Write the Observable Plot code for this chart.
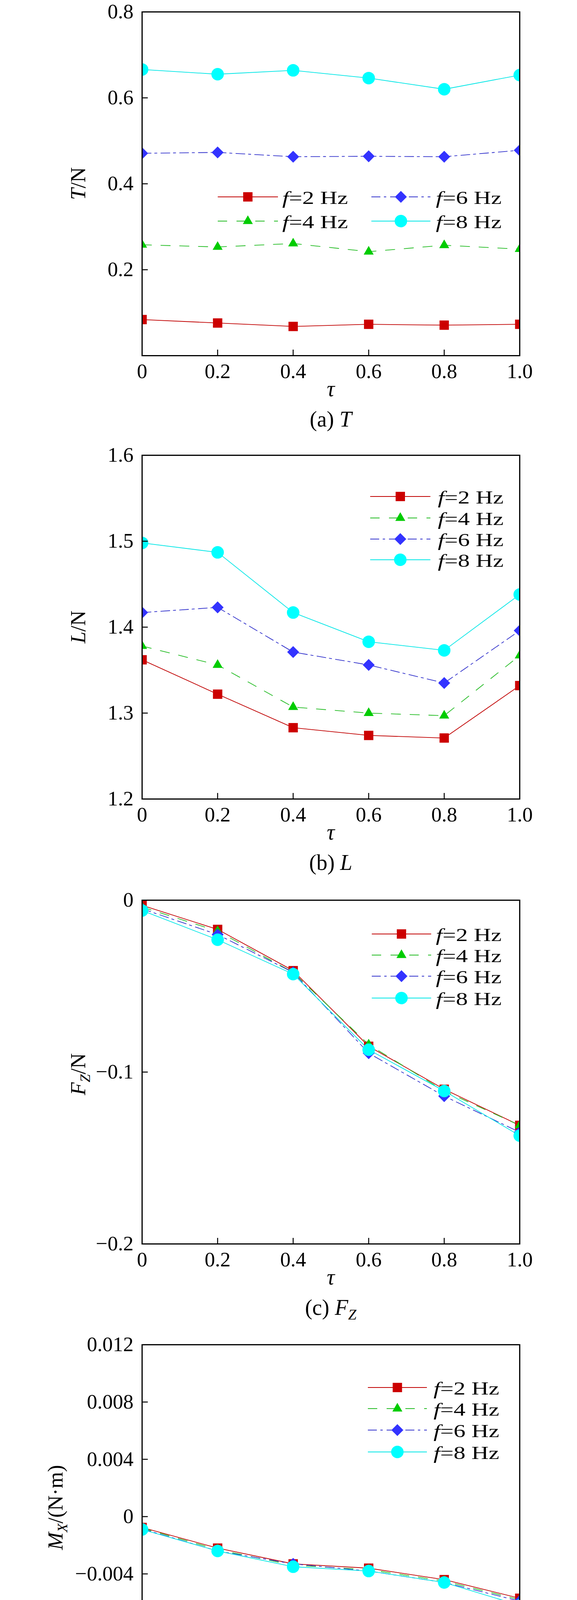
<!DOCTYPE html>
<html>
<head>
<meta charset="utf-8">
<script src="https://cdn.jsdelivr.net/npm/d3@7"></script>
<script src="https://cdn.jsdelivr.net/npm/@observablehq/plot@0.6"></script>
<style>
  html, body { margin: 0; padding: 0; background: #fff; }
  #root { position: relative; width: 1476px; height: 6817px; overflow: hidden; background: #fff; }
  .panel { position: absolute; left: 0; }
  .panel svg { background: transparent !important; overflow: visible; }
</style>
</head>
<body>
<div id="root"></div>
<script>
// ---------- data ----------
const tau = [0, 0.2, 0.4, 0.6, 0.8, 1.0];
const seriesNames = ["2", "4", "6", "8"]; // f = 2,4,6,8 Hz

// (a) T / N
const T2 = [0.084, 0.076, 0.068, 0.073, 0.071, 0.073];
const T4 = [0.258, 0.253, 0.261, 0.242, 0.257, 0.248];
const T6 = [0.471, 0.473, 0.463, 0.464, 0.463, 0.478];
const T8 = [0.666, 0.655, 0.664, 0.646, 0.620, 0.653];

// (b) L / N
const L2 = [1.362, 1.322, 1.283, 1.274, 1.271, 1.332];
const L4 = [1.378, 1.356, 1.307, 1.300, 1.297, 1.367];
const L6 = [1.417, 1.423, 1.371, 1.356, 1.335, 1.396];
const L8 = [1.498, 1.487, 1.417, 1.383, 1.373, 1.438];

// (c) F_Z / N
const FZ2 = [-0.003, -0.017, -0.041, -0.085, -0.110, -0.131];
const FZ4 = [-0.004, -0.018, -0.042, -0.084, -0.111, -0.131];
const FZ6 = [-0.005, -0.020, -0.042, -0.089, -0.114, -0.135];
const FZ8 = [-0.006, -0.023, -0.043, -0.087, -0.111, -0.137];

// (d) M_X / (N·m)
const MX2 = [-0.00076, -0.0022, -0.0033, -0.0036, -0.0044, -0.0057];
const MX4 = [-0.0008, -0.0023, -0.0034, -0.0037, -0.0045, -0.0058];
const MX6 = [-0.00086, -0.0024, -0.0033, -0.0038, -0.0046, -0.0059];
const MX8 = [-0.0009, -0.0024, -0.0035, -0.0038, -0.0046, -0.0062];

// (e) M_Y / (N·m)
const MY2 = [0.00064, 0.0002, -0.00026, -0.0014, -0.0016, -0.0025];
const MY4 = [0.0009, 0.0004, -0.0004, -0.0020, -0.0022, -0.0038];
const MY6 = [0.0010, 0.00056, -0.0010, -0.0030, -0.0036, -0.0067];
const MY8 = [0.0011, 0.00066, -0.00094, -0.0040, -0.0057, -0.0084];

// (f) M_Z / (N·m)
const MZ2 = [-0.0009, 0.0001, 0.0004, 0.0010, 0.0036, 0.0042];
const MZ4 = [-0.0015, 0.0002, 0.0011, 0.0029, 0.0054, 0.0069];
const MZ6 = [-0.0012, 0.0005, 0.0018, 0.0053, 0.0069, 0.0098];
const MZ8 = [-0.0014, 0.0006, 0.0026, 0.0069, 0.0088, 0.0119];

// tick values
const ticksT = [0, 0.2, 0.4, 0.6, 0.8];
const labelTicksT = [0.2, 0.4, 0.6, 0.8];
const ticksL = [1.2, 1.3, 1.4, 1.5, 1.6];
const ticksFZ = [-0.2, -0.1, 0];
const ticksM = [-0.012, -0.008, -0.004, 0, 0.004, 0.008, 0.012];

// ---------- layout / style ----------
const W = 1476, ML = 363, MR = 147, MT = 50, PH = 880, H = 1140;
const PW = W - ML - MR;
const FONT = "'Liberation Serif', 'Times New Roman', serif";

const diamond2 = {
  draw(ctx, size) {
    const r = Math.sqrt(size / 2);
    ctx.moveTo(0, -r); ctx.lineTo(r, 0); ctx.lineTo(0, r); ctx.lineTo(-r, 0); ctx.closePath();
  }
};
const styles = [
  {line: "#C00000", fill: "#CC0000", dash: null, symbol: d3.symbolSquare, r: 13.5},
  {line: "#22BB22", fill: "#00CC00", dash: "24,24", symbol: d3.symbolTriangle, r: 9.5},
  {line: "#3333CC", fill: "#3333FF", dash: "23,9,6,10", symbol: diamond2, r: 12.2},
  {line: "#00E6E6", fill: "#00FFFF", dash: null, symbol: d3.symbolCircle, r: 16}
];

const fmtM = d => d === 0 ? "0" : (d < 0 ? "\u2212" : "") + Math.abs(d).toFixed(3);
const fmt1 = d => d === 0 ? "0" : (d < 0 ? "\u2212" : "") + Math.abs(d).toFixed(1);

const panels = [
  {top: 30, series: [T2, T4, T6, T8], domain: [0, 0.8], ticks: ticksT, labelTicks: labelTicksT, fmt: fmt1,
   ylabel: [["T", "i"], ["/N", "n"]], ylx: 218, ylOff: 0,
   caption: [["(a) ", "n"], ["T", "i"]],
   legend: {cols: [{x1: 557, x2: 711, tx: 722, items: [0, 1]}, {x1: 950, x2: 1101, tx: 1115, items: [2, 3]}], rows: [474, 536]}},
  {top: 1165, series: [L2, L4, L6, L8], domain: [1.2, 1.6], ticks: ticksL, labelTicks: ticksL, fmt: fmt1,
   ylabel: [["L", "i"], ["/N", "n"]], ylx: 218, ylOff: 0,
   caption: [["(b) ", "n"], ["L", "i"]],
   legend: {cols: [{x1: 947, x2: 1101, tx: 1120, items: [0, 1, 2, 3]}], rows: [106, 161, 215, 268]}},
  {top: 2304, series: [FZ2, FZ4, FZ6, FZ8], domain: [-0.2, 0], ticks: ticksFZ, labelTicks: ticksFZ, fmt: fmt1,
   ylabel: [["F", "i"], ["Z", "s"], ["/N", "n"]], ylx: 218, ylOff: 6,
   caption: [["(c) ", "n"], ["F", "i"], ["Z", "s"]],
   legend: {cols: [{x1: 951, x2: 1103, tx: 1115, items: [0, 1, 2, 3]}], rows: [87, 141, 195, 251]}},
  {top: 3442, series: [MX2, MX4, MX6, MX8], domain: [-0.012, 0.012], ticks: ticksM, labelTicks: ticksM, fmt: fmtM,
   ylabel: [["M", "i"], ["X", "s"], ["/(N\u00b7m)", "n"]], ylx: 160, ylOff: -23,
   caption: [["(d) ", "n"], ["M", "i"], ["X", "s"]],
   legend: {cols: [{x1: 941, x2: 1092, tx: 1109, items: [0, 1, 2, 3]}], rows: [110, 164, 219, 275]}},
  {top: 4580, series: [MY2, MY4, MY6, MY8], domain: [-0.012, 0.012], ticks: ticksM, labelTicks: ticksM, fmt: fmtM,
   ylabel: [["M", "i"], ["Y", "s"], ["/(N\u00b7m)", "n"]], ylx: 160, ylOff: -23,
   caption: [["(e) ", "n"], ["M", "i"], ["Y", "s"]],
   legend: {cols: [{x1: 949, x2: 1101, tx: 1118, items: [0, 1, 2, 3]}], rows: [113, 168, 222, 278]}},
  {top: 5715, series: [MZ2, MZ4, MZ6, MZ8], domain: [-0.012, 0.012], ticks: ticksM, labelTicks: ticksM, fmt: fmtM,
   ylabel: [["M", "i"], ["Z", "s"], ["/(N\u00b7m)", "n"]], ylx: 160, ylOff: -26,
   caption: [["(f) ", "n"], ["M", "i"], ["Z", "s"]],
   legend: {cols: [{x1: 421, x2: 574, tx: 588, items: [0, 1, 2, 3]}], rows: [62, 115, 171, 227]}}
];

// write rich text (italic / subscript parts) into a text selection
function rich(text, parts, size) {
  let shifted = false;
  parts.forEach(([s, kind]) => {
    const t = text.append("tspan").text(s);
    if (kind === "i" || kind === "s") t.attr("font-style", "italic");
    if (kind === "s") {
      t.attr("font-size", size * 0.68).attr("dy", size * 0.22);
      shifted = true;
    } else if (shifted) {
      t.attr("dy", -size * 0.22);
      shifted = false;
    }
  });
}

const root = document.getElementById("root");

panels.forEach(p => {
  const rows = [];
  p.series.forEach((vals, k) => vals.forEach((v, i) => rows.push({tau: tau[i], v, s: k})));
  const marks = [];
  styles.forEach((st, k) => {
    const d = rows.filter(r => r.s === k);
    marks.push(Plot.line(d, {x: "tau", y: "v", stroke: st.line, strokeWidth: 1.8,
      strokeDasharray: st.dash || undefined, clip: true}));
  });
  styles.forEach((st, k) => {
    const d = rows.filter(r => r.s === k);
    marks.push(Plot.dot(d, {x: "tau", y: "v", symbol: st.symbol, r: st.r, fill: st.fill, stroke: "none", clip: true}));
  });
  // inward tick marks
  marks.push(Plot.tickY(p.ticks, {y: d => d, insetRight: PW - 15, stroke: "#000", strokeWidth: 2.5}));
  marks.push(Plot.tickX(tau, {x: d => d, insetTop: PH - 15, stroke: "#000", strokeWidth: 2.5}));
  marks.push(Plot.axisX(tau, {tickSize: 0, tickPadding: 20, tickFormat: fmt1, label: null, fontSize: 53}));
  marks.push(Plot.axisY(p.labelTicks, {tickSize: 0, tickPadding: 22, tickFormat: p.fmt, label: null, fontSize: 53}));
  marks.push(Plot.frame({stroke: "#000", strokeWidth: 3}));

  const svg = Plot.plot({
    width: W, height: H,
    marginLeft: ML, marginRight: MR, marginTop: MT, marginBottom: H - MT - PH,
    x: {domain: [0, 1], axis: null},
    y: {domain: p.domain, axis: null},
    style: {fontFamily: FONT, fontSize: "53px", color: "#000", background: "transparent"},
    marks
  });

  const div = document.createElement("div");
  div.className = "panel";
  div.style.top = (p.top - MT) + "px";
  div.appendChild(svg);
  root.appendChild(div);

  const s = d3.select(svg);
  const g = s.append("g").attr("font-family", FONT).attr("fill", "#000");

  // y axis label (rotated)
  const yl = g.append("text")
    .attr("transform", `translate(${p.ylx},${MT + PH / 2 + p.ylOff}) rotate(-90)`)
    .attr("text-anchor", "middle").attr("font-size", 54);
  rich(yl, p.ylabel, 54);

  // x axis label
  g.append("text").attr("x", ML + PW / 2).attr("y", MT + 984)
    .attr("text-anchor", "middle").attr("font-size", 56).attr("font-style", "italic").text("\u03c4");

  // caption
  const cap = g.append("text").attr("x", ML + PW / 2).attr("y", MT + 1062)
    .attr("text-anchor", "middle").attr("font-size", 56);
  rich(cap, p.caption, 56);

  // legend
  p.legend.cols.forEach(col => {
    col.items.forEach((k, j) => {
      const st = styles[k];
      const y = MT + p.legend.rows[j];
      g.append("line").attr("x1", col.x1).attr("x2", col.x2).attr("y1", y).attr("y2", y)
        .attr("stroke", st.line).attr("stroke-width", 1.8)
        .attr("stroke-dasharray", st.dash || null);
      g.append("path").attr("transform", `translate(${(col.x1 + col.x2) / 2},${y})`)
        .attr("d", d3.symbol(st.symbol, Math.PI * st.r * st.r)())
        .attr("fill", st.fill);
      const t = g.append("text").attr("x", col.tx).attr("y", y + 18).attr("font-size", 46)
        .attr("text-anchor", "start")
        .attr("textLength", 168).attr("lengthAdjust", "spacingAndGlyphs");
      t.append("tspan").attr("font-style", "italic").text("f");
      t.append("tspan").text("=" + seriesNames[k] + " Hz");
    });
  });
});
</script>
</body>
</html>
